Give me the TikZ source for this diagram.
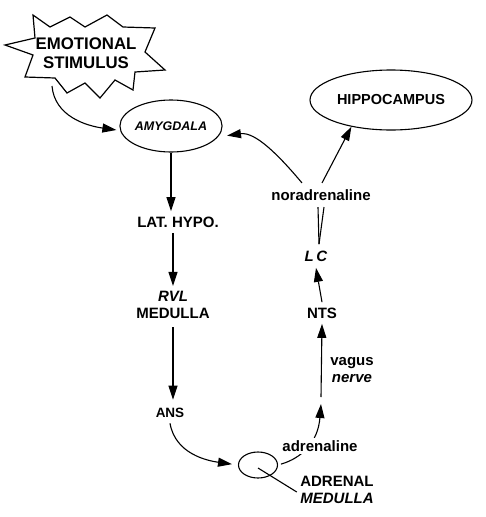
\documentclass[tikz,border=0pt]{standalone}
\usepackage{fontspec}
\setmainfont{Liberation Sans}
\usetikzlibrary{arrows.meta,shapes.geometric}
\tikzset{
  lbl/.style={font=\fontsize{15}{16.5}\selectfont\bfseries, align=center, inner xsep=1pt, inner ysep=5pt},
  arr/.style={-{Triangle[length=14pt,width=9pt]}},
  oval/.style={draw, ellipse, inner sep=0pt},
}
\begin{document}
\begin{tikzpicture}[x=1pt,y=1pt,line width=1.1pt]
\useasboundingbox (0,0) rectangle (485,-517);
% star
\draw[line width=1.2pt, line join=miter] (5,-45)--(35,-38)--(33,-15)--(50,-27)--(70,-17)--(85,-27)--(107,-15)--(123,-27)--(155,-28)--(145,-52)--(165,-70)--(135,-72)--(133,-90)--(115,-80)--(100,-98)--(85,-83)--(67,-93)--(55,-78)--(25,-77)--(33,-55)--cycle;
\node[font=\fontsize{16.8}{19}\selectfont\bfseries, align=center] (emo) at (86,-53) {EMOTIONAL\\STIMULUS};
\coordinate (starb) at (52,-86);
% nodes
\node[oval, minimum width=100pt, minimum height=52pt, font=\fontsize{12.5}{14}\selectfont\bfseries\itshape] (amy) at (171,-126) {AMYGDALA};
\node[oval, minimum width=162pt, minimum height=60pt, font=\fontsize{14.5}{16}\selectfont\bfseries] (hip) at (391,-100) {HIPPOCAMPUS};
\node[lbl] (lat) at (178,-222) {LAT. HYPO.};
\node[lbl] (rvl) at (173,-305) {\textit{RVL}\\MEDULLA};
\node[lbl, font=\fontsize{13.5}{15}\selectfont\bfseries] (ans) at (170,-413) {ANS};
\node[oval, minimum width=39pt, minimum height=26pt] (adr) at (258,-465) {};
\node[lbl, inner ysep=2pt] (adrl) at (337,-490) {ADRENAL\\\textit{MEDULLA}};
\node[lbl] (nts) at (322,-313) {NTS};
\node[lbl, inner ysep=6pt] (lc) at (316,-256) {\textit{L\,C}};
\node[lbl, inner ysep=2pt] (vag) at (352,-370) {vagus\\\textit{nerve}};
\node[lbl, inner ysep=6pt] (nor) at (321,-195) {noradrenaline};
\coordinate (vb) at (321,-401);
% connectors
\draw[arr] (starb) to[out=-85,in=172] ([xshift=-3pt,yshift=-4pt]amy.west);
\draw[arr] (amy.south) -- (amy.south |- lat.north);
\draw[arr] (lat.south -| rvl.north) -- (rvl.north);
\draw[arr] ([yshift=-3pt]rvl.south) -- ([yshift=3pt]rvl.south |- ans.north);
\draw[arr, shorten >=6pt] (ans.south) to[out=-80,in=172] (adr.west);
\draw[arr, shorten <=3pt] (adr.east) .. controls (302,-458) and (318,-442) .. ([yshift=-3pt]vb);
\node[lbl, inner ysep=2pt, fill=white] (adrn) at (320,-446) {adrenaline};
\draw (adr.center) ++(0,-3) coordinate (adrc) (adrc) -- ([xshift=-2pt,yshift=-2pt]adrl.west);
\draw[arr] ([yshift=4pt]vb) -- (nts.south);
\draw[arr] (nts.north) -- (lc.south);
\draw ([xshift=3pt]lc.north) -- ([xshift=-3pt]nor.south);
\draw ([xshift=3pt]lc.north) -- ([xshift=3pt]nor.south);
\draw[arr, shorten >=9pt] ([xshift=-19pt]nor.north) to[out=130,in=8] (amy.347);
\draw[arr] ([xshift=1pt]nor.north) -- (hip.214);
\end{tikzpicture}
\end{document}
